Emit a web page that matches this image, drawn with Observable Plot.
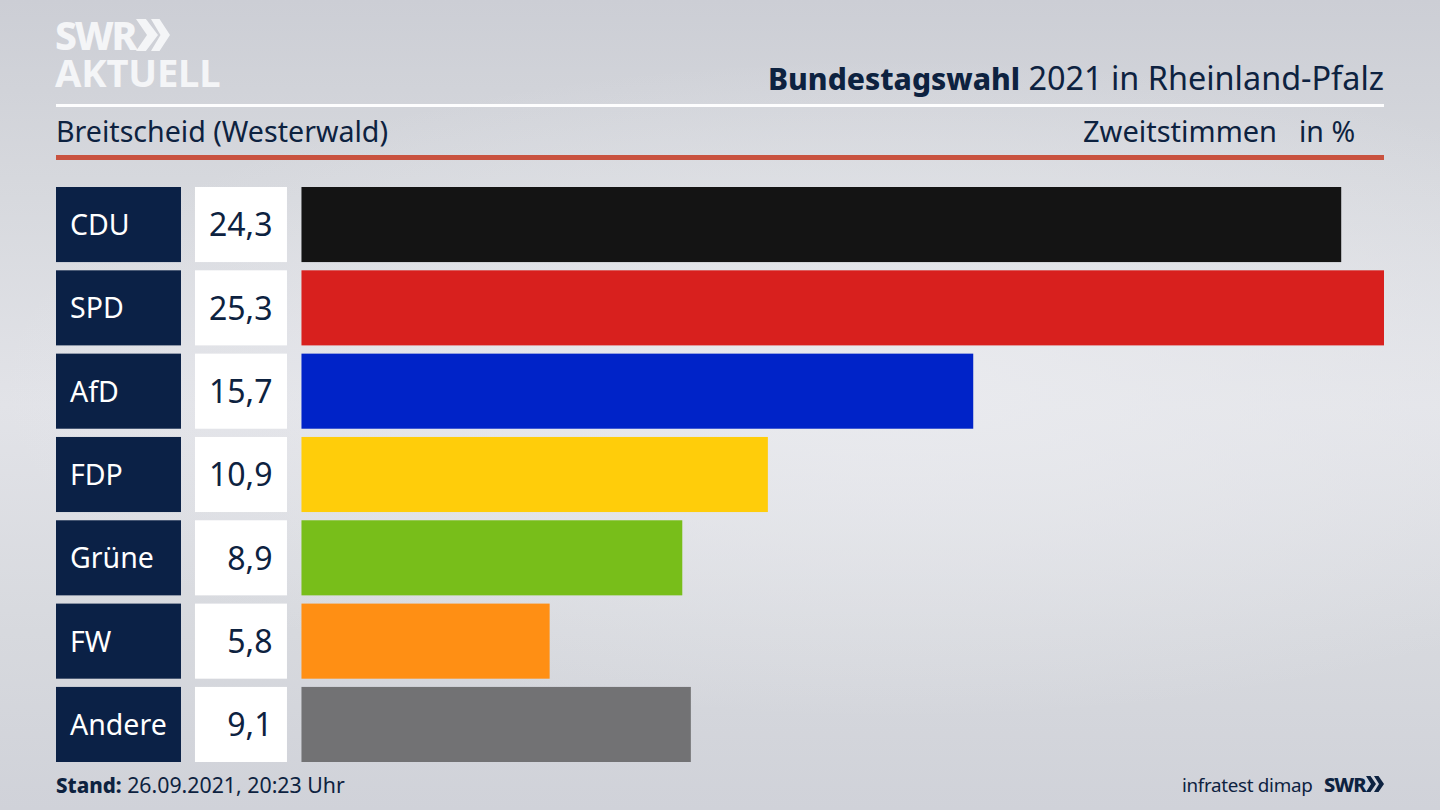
<!DOCTYPE html>
<html lang="de">
<head>
<meta charset="utf-8">
<script src="https://cdn.jsdelivr.net/npm/d3@7"></script>
<script src="https://cdn.jsdelivr.net/npm/@observablehq/plot@0.6"></script>
<style>
  html,body{margin:0;padding:0;width:1440px;height:810px;overflow:hidden;}
  body{position:relative;font-family:"Noto Sans",sans-serif;color:#0d2240;
    background:
      radial-gradient(ellipse 900px 330px at 62% 48%, rgba(234,235,239,.9), rgba(234,235,239,0) 100%),
      linear-gradient(180deg,#ccced5 0%,#d6d8dd 22%,#e2e3e8 50%,#d7d9de 78%,#d0d2d9 100%);}
  .abs{position:absolute;white-space:nowrap;}
  #logo1{left:55px;top:14px;font:800 39px/42px "Noto Sans",sans-serif;color:#f4f5f7;letter-spacing:-2.2px;}
  #logo2{left:55px;top:56px;font:700 38.2px/32px "Noto Sans",sans-serif;color:#f4f5f7;letter-spacing:-.2px;}
  .chev{position:absolute;background:#f4f5f7;clip-path:polygon(0 0,45% 0,100% 50%,45% 100%,0 100%,50% 50%);}
  #title{right:56px;top:55px;font-size:32.4px;line-height:44px;}
  #title b{font-weight:800;font-size:30px;}
  #line1{left:56px;width:1328px;top:104px;height:3px;background:#fdfdfe;}
  #line2{left:56px;width:1328px;top:155px;height:5px;background:#c9523f;}
  #place{left:56px;top:111px;font-size:28.6px;line-height:40px;}
  #measure{left:1083px;top:111px;font-size:29px;line-height:40px;}
  #unit{left:1299px;top:111px;font-size:28.5px;line-height:40px;}
  #chart{position:absolute;left:0;top:187px;}
  #stand{left:56px;top:769px;font-size:21.3px;line-height:32px;}
  #stand b{font-weight:800;font-size:20.5px;}
  #source{left:1182px;top:769px;font-size:18.8px;line-height:32px;letter-spacing:-.3px;}
  #swr{left:1324px;top:770px;font:800 20px/30px "Noto Sans",sans-serif;letter-spacing:-1px;}
</style>
</head>
<body>
<div class="abs" id="logo1">SWR</div>
<div class="chev" style="left:136px;top:19px;width:22px;height:32px"></div>
<div class="chev" style="left:151px;top:19px;width:19px;height:32px"></div>
<div class="abs" id="logo2">AKTUELL</div>
<div class="abs" id="title"><b>Bundestagswahl</b> 2021 in Rheinland-Pfalz</div>
<div class="abs" id="line1"></div>
<div class="abs" id="place">Breitscheid (Westerwald)</div>
<div class="abs" id="measure">Zweitstimmen</div>
<div class="abs" id="unit">in %</div>
<div class="abs" id="line2"></div>
<div id="chart"></div>
<div class="abs" id="stand"><b>Stand:</b> 26.09.2021, 20:23 Uhr</div>
<div class="abs" id="source">infratest dimap</div>
<div class="abs" id="swr">SWR</div>
<div class="chev" style="left:1366px;top:776px;width:10px;height:16px;background:#0d2240"></div>
<div class="chev" style="left:1374px;top:776px;width:10px;height:16px;background:#0d2240"></div>
<script>
const parties = ["CDU","SPD","AfD","FDP","Grüne","FW","Andere"];
const shares  = [24.3,25.3,15.7,10.9,8.9,5.8,9.1];
const labels  = ["24,3","25,3","15,7","10,9","8,9","5,8","9,1"];
const colours = ["#141414","#d8201e","#0023c8","#ffcd0a","#78be1a","#ff8f14","#727274"];

const rows = parties.map((party,i)=>({party,share:shares[i],label:labels[i],colour:colours[i]}));

// The two label columns sit left of zero on the percent scale.
const nameColumn  = {x1:-5.737,x2:-2.816};
const valueColumn = {x1:-2.489,x2:-0.339};
const y = d=>d.party;

const plot = Plot.plot({
  width:1440,height:575,
  marginLeft:56,marginRight:56,marginTop:0,marginBottom:0,
  style:{background:"transparent",fontFamily:'"Noto Sans",sans-serif'},
  x:{domain:[nameColumn.x1,25.3],axis:null},
  y:{domain:parties,axis:null,paddingInner:0.099,paddingOuter:0,align:0,round:false},
  marks:[
    Plot.barX(rows,{x1:()=>nameColumn.x1,x2:()=>nameColumn.x2,y,fill:"#0b2146"}),
    Plot.barX(rows,{x1:()=>valueColumn.x1,x2:()=>valueColumn.x2,y,fill:"#ffffff"}),
    Plot.barX(rows,{x1:()=>0,x2:"share",y,fill:"colour"}),
    Plot.text(rows,{x:()=>nameColumn.x1,y,text:"party",textAnchor:"start",dx:13.5,dy:1,fill:"#ffffff",fontSize:28.5}),
    Plot.text(rows,{x:()=>valueColumn.x2,y,text:"label",textAnchor:"end",dx:-15,dy:1,fill:"#0d2240",fontSize:32})
  ]
});
document.getElementById("chart").appendChild(plot);
</script>
</body>
</html>
